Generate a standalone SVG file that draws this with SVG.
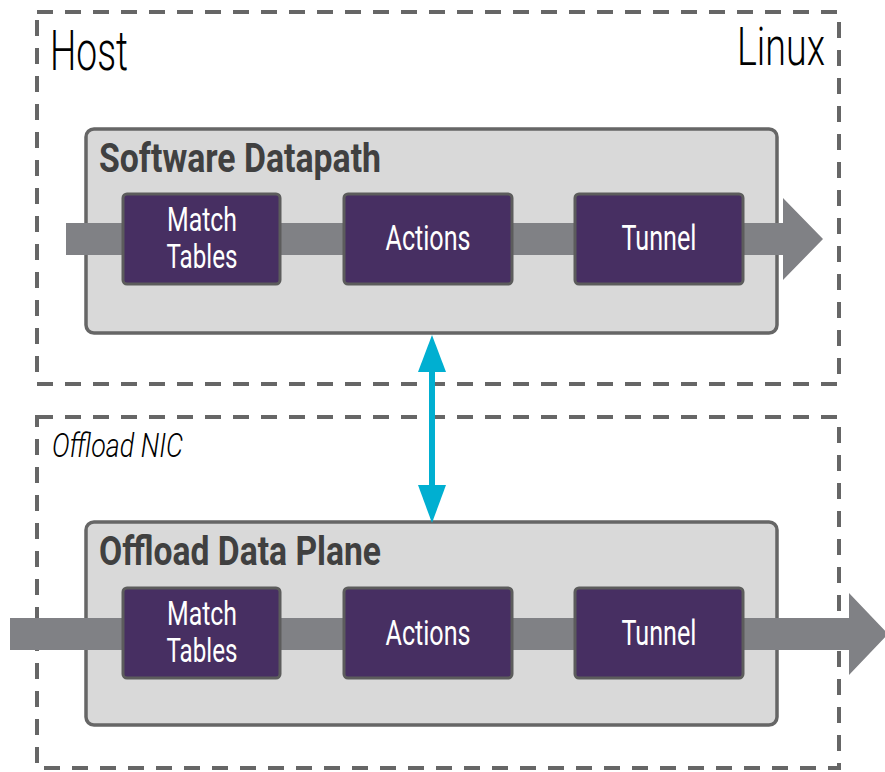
<svg xmlns="http://www.w3.org/2000/svg" width="885" height="772" viewBox="0 0 885 772">
  <style>
    .frame { fill: none; stroke: #666666; stroke-width: 4; stroke-dasharray: 16 12; }
    .container { fill: #d9d9d9; stroke: #666666; stroke-width: 3.5; }
    .stage { fill: #472f62; stroke: #5c5c5c; stroke-width: 3; }
    .band { fill: #808185; }
    .link { stroke: #00afd1; stroke-width: 6; fill: none; }
    .head { fill: #00afd1; }
    .zone { font-family: Roboto, "Liberation Sans", sans-serif; font-weight: 300; fill: #000000; }
    .title { font-family: Roboto, "Liberation Sans", sans-serif; font-weight: 700; font-size: 41px; fill: #404040; }
    .label { font-family: Roboto, "Liberation Sans", sans-serif; font-weight: 400; font-size: 35px; fill: #ffffff; text-anchor: middle; }
    .label.two { font-size: 33px; }
  </style>

  <!-- dashed zone frames -->
  <g id="host">
    <rect class="frame" x="37" y="12" width="802" height="372"/>
    <text class="zone" x="50" y="70" font-size="56" textLength="78" lengthAdjust="spacingAndGlyphs">Host</text>
    <text class="zone" x="737" y="65" font-size="53" textLength="88" lengthAdjust="spacingAndGlyphs">Linux</text>
  </g>
  <g id="offload-nic">
    <rect class="frame" x="37" y="417" width="802" height="351"/>
    <text class="zone" x="52" y="457" font-size="34" font-style="italic" textLength="131" lengthAdjust="spacingAndGlyphs">Offload NIC</text>
  </g>

  <!-- datapath containers -->
  <g id="software-datapath">
    <rect class="container" x="86" y="129" width="691" height="204" rx="8"/>
    <text class="title" x="99" y="172" textLength="282" lengthAdjust="spacingAndGlyphs">Software Datapath</text>
  </g>
  <g id="offload-data-plane">
    <rect class="container" x="86" y="522" width="691" height="203" rx="8"/>
    <text class="title" x="99" y="565" textLength="282" lengthAdjust="spacingAndGlyphs">Offload Data Plane</text>
  </g>

  <!-- packet flow bands and the sync link -->
  <g id="connectors">
    <path class="band" d="M66,223 H783 V198 L823,239 L783,280 V255 H66 Z"/>
    <path class="band" d="M10,618 H849 V593 L888,634 L849,675 V650 H10 Z"/>
    <line class="link" x1="432" y1="370" x2="432" y2="487"/>
    <polygon class="head" points="432,335 446,372 418,372"/>
    <polygon class="head" points="432,523 446,485 418,485"/>
  </g>

  <!-- software pipeline stages -->
  <g id="sw-match">
    <rect class="stage" x="123" y="194" width="157" height="90" rx="4"/>
    <text class="label two" x="202" y="231" textLength="70" lengthAdjust="spacingAndGlyphs">Match</text>
    <text class="label two" x="202" y="268" textLength="71" lengthAdjust="spacingAndGlyphs">Tables</text>
  </g>
  <g id="sw-actions">
    <rect class="stage" x="344" y="194" width="168" height="90" rx="4"/>
    <text class="label" x="428" y="250" textLength="85" lengthAdjust="spacingAndGlyphs">Actions</text>
  </g>
  <g id="sw-tunnel">
    <rect class="stage" x="575" y="194" width="168" height="90" rx="4"/>
    <text class="label" x="659" y="250" textLength="75" lengthAdjust="spacingAndGlyphs">Tunnel</text>
  </g>

  <!-- offload pipeline stages -->
  <g id="hw-match">
    <rect class="stage" x="123" y="588" width="157" height="90" rx="4"/>
    <text class="label two" x="202" y="625" textLength="70" lengthAdjust="spacingAndGlyphs">Match</text>
    <text class="label two" x="202" y="662" textLength="71" lengthAdjust="spacingAndGlyphs">Tables</text>
  </g>
  <g id="hw-actions">
    <rect class="stage" x="344" y="588" width="168" height="90" rx="4"/>
    <text class="label" x="428" y="645" textLength="85" lengthAdjust="spacingAndGlyphs">Actions</text>
  </g>
  <g id="hw-tunnel">
    <rect class="stage" x="575" y="588" width="168" height="90" rx="4"/>
    <text class="label" x="659" y="645" textLength="75" lengthAdjust="spacingAndGlyphs">Tunnel</text>
  </g>
</svg>
